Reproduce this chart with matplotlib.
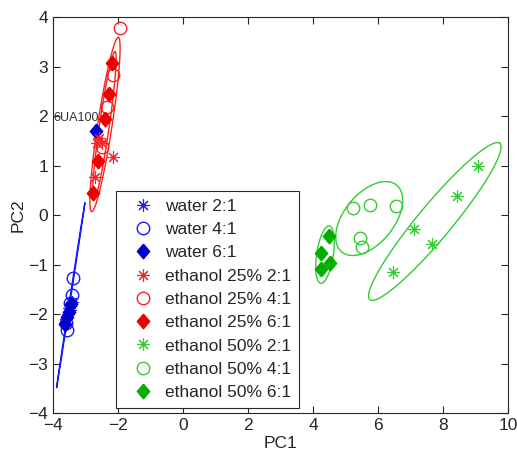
import numpy as np
import matplotlib.pyplot as plt

plt.rcParams['font.family'] = ['Liberation Sans', 'DejaVu Sans']

# PCA scores
water_21_x = [-3.42, -3.50, -3.55, -3.60, -3.48]
water_21_y = [-1.75, -1.88, -2.00, -2.10, -1.92]
water_41_x = [-3.38, -3.41, -3.48, -3.58, -3.60]
water_41_y = [-1.28, -1.62, -1.78, -2.32, -2.19]
water_61_x = [-3.45, -3.52, -3.58, -3.62, -2.68]
water_61_y = [-1.80, -1.95, -2.05, -2.20, 1.70]

eth25_21_x = [-2.14, -2.50, -2.66, -2.71, -2.58]
eth25_21_y = [1.17, 1.45, 1.45, 0.77, 1.55]
eth25_41_x = [-1.94, -2.16, -2.35, -2.50]
eth25_41_y = [3.78, 2.83, 2.19, 1.38]
eth25_61_x = [-2.19, -2.28, -2.40, -2.61, -2.78]
eth25_61_y = [3.08, 2.44, 1.95, 1.09, 0.44]

eth50_21_x = [9.09, 8.44, 7.12, 7.67, 6.45]
eth50_21_y = [0.99, 0.38, -0.29, -0.59, -1.16]
eth50_41_x = [5.24, 5.75, 6.55, 5.45, 5.50]
eth50_41_y = [0.14, 0.20, 0.19, -0.47, -0.64]
eth50_61_x = [4.49, 4.24, 4.52, 4.24]
eth50_61_y = [-0.42, -0.76, -0.96, -1.08]

# confidence ellipses: centre, major half-axis vector, minor half-axis vector
ell_center = [(-3.455, -1.625), (-2.40, 1.83), (-2.42, 1.80), (7.75, -0.13), (5.73, -0.07), (4.37, -0.80)]
ell_major = [(0.435, 1.865), (0.41, 1.76), (0.33, 1.50), (2.00, 1.58), (1.00, 0.20), (0.26, 0.0)]
ell_minor = [(0.012, 0.0), (0.22, -0.02), (0.15, -0.02), (0.40, -0.22), (0.25, 0.72), (0.12, 0.58)]
ell_color = ['#1a1aff', '#ff2020', '#ff2020', '#33cc33', '#33cc33', '#33cc33']

blue = '#1a1aff'
red = '#ff2020'
green = '#33cc33'
dgreen = '#00b000'
star = (8, 2, 0)
diamond = [(0, 1), (0.85, 0), (0, -1), (-0.85, 0), (0, 1)]

fig = plt.figure(figsize=(5.17, 4.63), dpi=100)
ax = fig.add_axes([0.1025, 0.108, 0.880, 0.855])

t = np.linspace(0, 2 * np.pi, 200)
for c, u, v, col in zip(ell_center, ell_major, ell_minor, ell_color):
    ax.plot(c[0] + np.cos(t) * u[0] + np.sin(t) * v[0],
            c[1] + np.cos(t) * u[1] + np.sin(t) * v[1], color=col, lw=1.0)

ms_star, ms_circ, ms_dia = 9, 9, 10.5
ax.plot(water_21_x, water_21_y, ls='none', marker=star, ms=ms_star, mec=blue, mew=0.8, label='water 2:1')
ax.plot(water_41_x, water_41_y, ls='none', marker='o', ms=ms_circ, mfc='none', mec=blue, mew=1, label='water 4:1')
ax.plot(water_61_x, water_61_y, ls='none', marker=diamond, ms=ms_dia, color='#0000cc', label='water 6:1')
ax.plot(eth25_21_x, eth25_21_y, ls='none', marker=star, ms=ms_star, mec=red, mew=0.8, label='ethanol 25% 2:1')
ax.plot(eth25_41_x, eth25_41_y, ls='none', marker='o', ms=ms_circ, mfc='none', mec=red, mew=1, label='ethanol 25% 4:1')
ax.plot(eth25_61_x, eth25_61_y, ls='none', marker=diamond, ms=ms_dia, color='#ee0000', label='ethanol 25% 6:1')
ax.plot(eth50_21_x, eth50_21_y, ls='none', marker=star, ms=ms_star, mec=green, mew=0.8, label='ethanol 50% 2:1')
ax.plot(eth50_41_x, eth50_41_y, ls='none', marker='o', ms=ms_circ, mfc='none', mec=green, mew=1, label='ethanol 50% 4:1')
ax.plot(eth50_61_x, eth50_61_y, ls='none', marker=diamond, ms=ms_dia, color=dgreen, label='ethanol 50% 6:1')

ax.text(-3.98, 1.96, '6UA100', fontsize=9, color='#333333', ha='left', va='center', clip_on=False)

ax.set_xlim(-4, 10)
ax.set_ylim(-4, 4)
ax.set_xticks(range(-4, 11, 2))
ax.set_yticks(range(-4, 5))
ax.tick_params(direction='in', top=True, right=True, length=5, labelsize=12.5, colors='#262626', width=0.8)
for s in ax.spines.values():
    s.set_color('#262626')
    s.set_linewidth(0.8)
ax.set_xlabel('PC1', fontsize=12.5, color='#262626', labelpad=2)
ax.set_ylabel('PC2', fontsize=12.5, color='#262626', labelpad=2)

leg = ax.legend(loc='lower left', bbox_to_anchor=(0.138, 0.0126), fontsize=12.5, numpoints=1,
                handlelength=2.2, handletextpad=0.18, labelspacing=0.47, borderpad=0.45,
                fancybox=False, framealpha=1, edgecolor='#262626', borderaxespad=0)
leg.get_frame().set_linewidth(0.8)
for txt in leg.get_texts():
    txt.set_color('#262626')

fig.savefig('out.png', dpi=100)
print('Done')
